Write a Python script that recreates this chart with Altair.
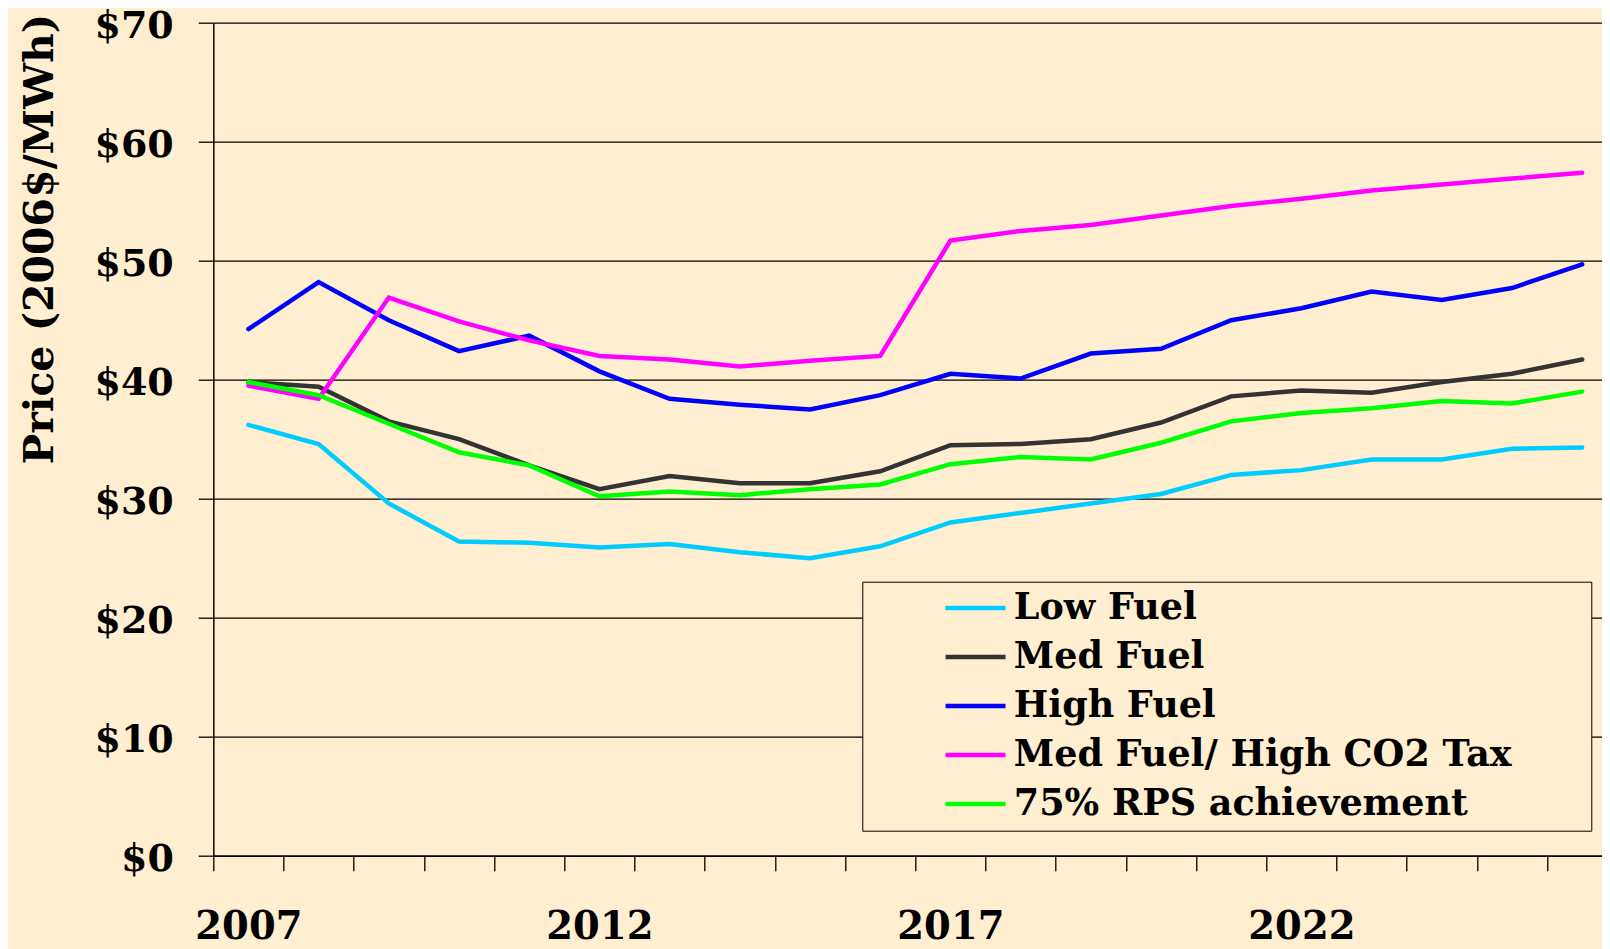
import altair as alt
import pandas as pd

years = list(range(2007, 2027))
series_names = ["Low Fuel", "Med Fuel", "High Fuel", "Med Fuel/ High CO2 Tax", "75% RPS achievement"]
low_fuel = [36.2, 34.6, 29.6, 26.4, 26.3, 25.9, 26.2, 25.5, 25.0, 26.0, 28.0, 28.8, 29.6, 30.4, 32.0, 32.4, 33.3, 33.3, 34.2, 34.3]
med_fuel = [39.8, 39.4, 36.5, 35.0, 32.8, 30.8, 31.9, 31.3, 31.3, 32.3, 34.5, 34.6, 35.0, 36.4, 38.6, 39.1, 38.9, 39.8, 40.5, 41.7]
high_fuel = [44.25, 48.2, 45.0, 42.4, 43.7, 40.7, 38.4, 37.9, 37.5, 38.7, 40.5, 40.1, 42.2, 42.6, 45.0, 46.0, 47.4, 46.7, 47.7, 49.7]
co2_tax = [39.5, 38.4, 46.9, 44.9, 43.3, 42.0, 41.7, 41.1, 41.6, 42.0, 51.7, 52.5, 53.0, 53.8, 54.6, 55.2, 55.9, 56.4, 56.9, 57.4]
rps_75 = [39.8, 38.7, 36.3, 33.9, 32.8, 30.2, 30.6, 30.3, 30.8, 31.2, 32.9, 33.5, 33.3, 34.7, 36.5, 37.2, 37.6, 38.2, 38.0, 39.0]
colors = ["#00CCFF", "#333333", "#0000FF", "#FF00FF", "#00FF00"]
y_ticks = [0, 10, 20, 30, 40, 50, 60, 70]

rows = []
for k, (name, vals) in enumerate(zip(series_names, [low_fuel, med_fuel, high_fuel, co2_tax, rps_75])):
    for yr, v in zip(years, vals):
        rows.append({"year": yr, "price": v, "series": name, "order": k})
df = pd.DataFrame(rows)

BG = "#FFEFD0"
FONT = "DejaVu Serif"

chart = alt.Chart(df).mark_line(strokeWidth=4.5, strokeCap="round").encode(
    x=alt.X(
        "year:O",
        bandPosition=0.5,
        scale=alt.Scale(type="band", paddingInner=0, paddingOuter=0, range=[0, 1404.0]),
        axis=alt.Axis(
            title=None,
            tickBand="extent",
            labelExpr="(datum.value - 2007) % 5 == 0 ? datum.label : ''",
            labelAngle=0,
            grid=False,
            labelFont=FONT,
            labelFontSize=38.5,
            labelFontWeight="bold",
            labelColor="black",
            labelPadding=38,
            tickSize=15,
            tickColor="black",
            tickWidth=1.3,
            domainColor="black",
            domainWidth=1.5,
        ),
    ),
    y=alt.Y(
        "price:Q",
        scale=alt.Scale(domain=[0, 70], nice=False, zero=True),
        axis=alt.Axis(
            values=y_ticks,
            title="Price (2006$/MWh)",
            titleX=-161,
            titleY=216,
            titleAngle=270,
            titleAlign="center",
            titleBaseline="alphabetic",
            titleFont=FONT,
            titleFontSize=41,
            titleFontWeight="bold",
            titleColor="black",
            labelExpr="'$' + datum.value",
            labelFont=FONT,
            labelFontSize=38,
            labelFontWeight="bold",
            labelColor="black",
            labelPadding=25,
            labelOffset=4,
            tickSize=15,
            tickColor="black",
            tickWidth=1.3,
            domainColor="black",
            domainWidth=1.5,
            grid=True,
            gridColor="black",
            gridWidth=1.3,
            gridOpacity=1,
        ),
    ),
    color=alt.Color(
        "series:N",
        sort=series_names,
        scale=alt.Scale(domain=series_names, range=colors),
        legend=alt.Legend(
            title=None,
            orient="none",
            legendX=649,
            legendY=559,
            fillColor=BG,
            strokeColor="black",
            padding=8,
            symbolType="M-2,0H2",
            symbolSize=900,
            symbolStrokeWidth=4.5,
            symbolOffset=87,
            labelOffset=20,
            labelFont=FONT,
            labelFontSize=36.5,
            labelFontWeight="bold",
            labelColor="black",
            labelLimit=2000,
            rowPadding=12,
            labelExpr="datum.label + '\u00a0\u00a0\u00a0\u00a0\u00a0\u2009\u200b'",
        ),
    ),
    order=alt.Order("order:Q"),
).properties(
    width=1388.7,
    height=833,
    autosize=alt.AutoSizeParams(type="none"),
    padding={"left": 205.3, "top": 14.7, "right": 0, "bottom": 93},
    background=BG,
).configure_view(stroke=None, fill=BG)

chart.save("out.html", embed_options={"renderer": "svg", "actions": False})
